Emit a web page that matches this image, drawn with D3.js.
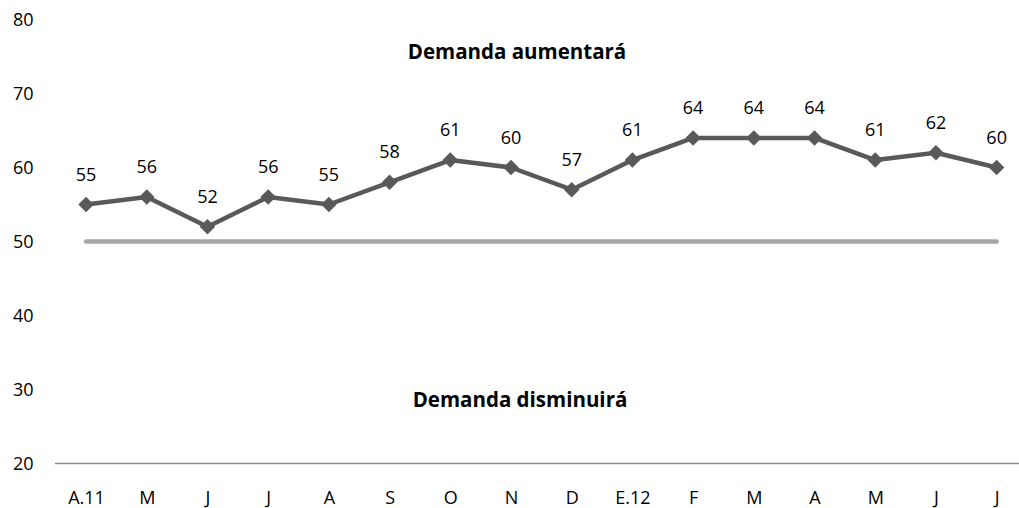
<!DOCTYPE html>
<html>
<head>
<meta charset="utf-8">
<script src="https://cdn.jsdelivr.net/npm/d3@7"></script>
<style>
  html, body { margin: 0; padding: 0; background: #fff; }
  svg { display: block; }
</style>
</head>
<body>
<svg id="chart" width="1019" height="508"></svg>
<script>
const categories = ["A.11","M","J","J","A","S","O","N","D","E.12","F","M","A","M","J","J"];
const values = [55,56,52,56,55,58,61,60,57,61,64,64,64,61,62,60];
const yTicks = [20,30,40,50,60,70,80];
const threshold = 50;
const labelUp = "Demanda aumentará";
const labelDown = "Demanda disminuirá";

const svg = d3.select("#chart");
const font = "'Open Sans', 'Noto Sans', sans-serif";
const fs = 18;

const x = d3.scalePoint()
  .domain(d3.range(categories.length))
  .range([55.7, 1027])
  .padding(0.5);

const y = d3.scaleLinear().domain([20, 80]).range([463.5, 19.5]);

// Y tick labels (no axis line)
const yAxis = d3.axisLeft(y).tickValues(yTicks).tickSize(0).tickPadding(0);
const gy = svg.append("g").attr("transform", "translate(33.5,0)").call(yAxis);
gy.select(".domain").remove();
gy.selectAll("text")
  .attr("font-family", font).attr("font-size", fs).attr("fill", "#000")
  .attr("dy", "0.36em");

// X axis
const xAxis = d3.axisBottom(x).tickFormat(i => categories[i]).tickSize(0).tickPadding(0);
const gx = svg.append("g").attr("transform", `translate(0,${y(20)})`).call(xAxis);
gx.select(".domain").remove();
gx.append("line")
  .attr("x1", 55).attr("x2", 1019).attr("y1", 0).attr("y2", 0)
  .attr("stroke", "#8a8a8a").attr("stroke-width", 1.5);
gx.selectAll("text")
  .attr("font-family", font).attr("font-size", fs).attr("fill", "#000")
  .attr("y", 40).attr("dy", "0");

// Threshold line
svg.append("line")
  .attr("x1", x(0)).attr("x2", x(categories.length - 1))
  .attr("y1", y(threshold)).attr("y2", y(threshold))
  .attr("stroke", "#a6a6a6").attr("stroke-width", 4.5)
  .attr("stroke-linecap", "round");

// Series line
const line = d3.line().x((d, i) => x(i)).y(d => y(d));
svg.append("path")
  .datum(values)
  .attr("d", line)
  .attr("fill", "none")
  .attr("stroke", "#595959")
  .attr("stroke-width", 4.5)
  .attr("stroke-linejoin", "round");

// Markers (diamonds)
svg.selectAll(".mk").data(values).join("path")
  .attr("class", "mk")
  .attr("d", d3.symbol().type(d3.symbolSquare).size(120))
  .attr("transform", (d, i) => `translate(${x(i)},${y(d)}) rotate(45)`)
  .attr("fill", "#595959");

// Data labels
svg.selectAll(".lbl").data(values).join("text")
  .attr("class", "lbl")
  .attr("x", (d, i) => x(i))
  .attr("y", d => y(d) - 24)
  .attr("text-anchor", "middle")
  .attr("font-family", font).attr("font-size", fs).attr("fill", "#000")
  .text(d => d);

// Zone annotations
svg.append("text")
  .attr("x", 517).attr("y", y(74.6))
  .attr("text-anchor", "middle")
  .attr("font-family", font).attr("font-size", 20.5).attr("font-weight", "bold")
  .attr("fill", "#000")
  .text(labelUp);

svg.append("text")
  .attr("x", 520).attr("y", y(27.6))
  .attr("text-anchor", "middle")
  .attr("font-family", font).attr("font-size", 20.5).attr("font-weight", "bold")
  .attr("fill", "#000")
  .text(labelDown);
</script>
</body>
</html>
